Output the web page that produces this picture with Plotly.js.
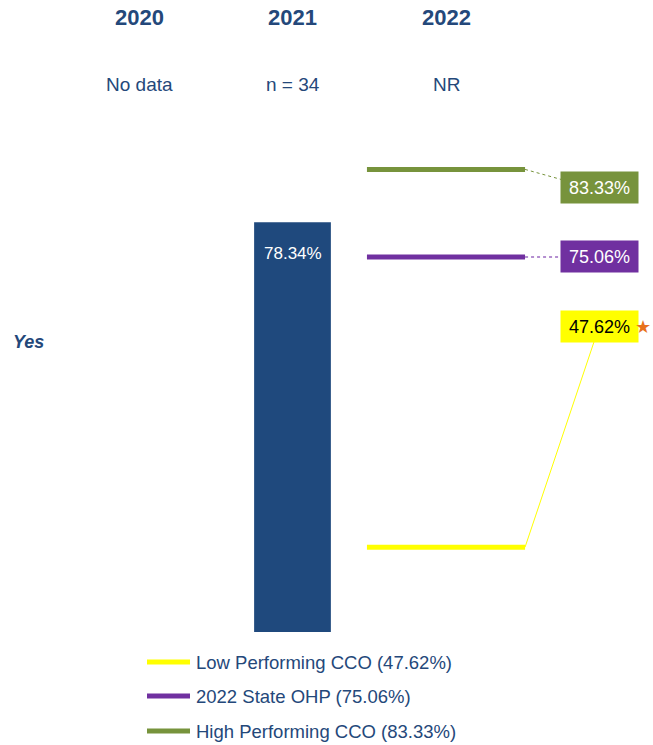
<!DOCTYPE html>
<html>
<head>
<meta charset="utf-8">
<script src="https://cdn.plot.ly/plotly-3.0.1.min.js"></script>
<style>html,body{margin:0;padding:0;background:#fff;}#chart{width:653px;height:745px;}</style>
</head>
<body>
<div id="chart"></div>
<script>
// ---- data ----
const years = ['2020', '2021', '2022'];
const subLabels = ['No data', 'n = 34', 'NR'];
const barValues = [null, 78.34, null];
const rowLabel = 'Yes';
const refNames = ['Low Performing CCO', '2022 State OHP', 'High Performing CCO'];
const refValues = [47.62, 75.06, 83.33];
const refColors = ['#FFFF00', '#7030A0', '#77933C'];
const refTextColors = ['#000000', '#FFFFFF', '#FFFFFF'];

// ---- layout constants ----
const W = 653, H = 745;
const mT = 120, mB = 113;
const yMin = 39.6, yMax = 88.0;
const xMin = -0.9055, xMax = 3.3485;
const pxPerY = (H - mT - mB) / (yMax - yMin);
const navy = '#1F497D';
const textNavy = '#24487A';
const labelX = 3.0;                 // center of value boxes
const labelY = [68.49, 75.06, 81.58]; // vertical placement of value boxes
const boxW = 77, boxH = 31;
const lineX0 = 1.485, lineX1 = 2.515;
const pxPerX = W / (xMax - xMin);

function paperY(px) { return (H - mB - px) / (H - mT - mB); }
function paperX(px) { return px / W; }

const traces = [];
traces.push({
  type: 'bar', x: [0, 1, 2], y: barValues, width: 0.5,
  marker: { color: navy }, hoverinfo: 'skip', showlegend: false
});
refValues.forEach((v, i) => {
  traces.push({
    type: 'scatter', mode: 'lines', x: [lineX0, lineX1], y: [v, v],
    line: { color: refColors[i], width: 5 }, hoverinfo: 'skip', showlegend: false
  });
});

const annotations = [];
const shapes = [];
years.forEach((y, i) => {
  annotations.push({ x: i, xref: 'x', y: paperY(17), yref: 'paper', text: '<b>' + y + '</b>',
    showarrow: false, xanchor: 'center', yanchor: 'middle',
    font: { family: 'Liberation Sans Narrow, Liberation Sans, sans-serif', size: 22, color: textNavy } });
  annotations.push({ x: i, xref: 'x', y: paperY(84), yref: 'paper', text: subLabels[i],
    showarrow: false, xanchor: 'center', yanchor: 'middle',
    font: { family: 'Liberation Sans Narrow, Liberation Sans, sans-serif', size: 19, color: textNavy } });
});
annotations.push({ x: paperX(11), xref: 'paper', y: paperY(342), yref: 'paper', text: '<b><i>' + rowLabel + '</i></b>',
  showarrow: false, xanchor: 'left', yanchor: 'middle',
  font: { family: 'Liberation Sans, sans-serif', size: 18, color: textNavy } });

// bar value label
barValues.forEach((v, i) => {
  if (v === null) return;
  annotations.push({ x: i, y: v, xref: 'x', yref: 'y', text: v.toFixed(2) + '%', showarrow: false,
    xanchor: 'center', yanchor: 'top', yshift: -20,
    font: { family: 'Liberation Sans, sans-serif', size: 17, color: '#FFFFFF' } });
});

// value boxes + leaders
refValues.forEach((v, i) => {
  annotations.push({ x: labelX, y: labelY[i], xref: 'x', yref: 'y', text: v.toFixed(2) + '%', showarrow: false,
    xanchor: 'center', yanchor: 'middle', bgcolor: refColors[i], width: boxW - 2, height: boxH - 2, borderpad: 1,
    font: { family: 'Liberation Sans, sans-serif', size: 18, color: refTextColors[i] } });
});
const boxLeft = labelX - (boxW / 2) / pxPerX;
const halfBoxY = (boxH / 2) / pxPerY;
// low performing: solid thin line to bottom of box
shapes.push({ type: 'line', xref: 'x', yref: 'y', x0: lineX1, y0: refValues[0], x1: labelX - 5.5 / pxPerX, y1: labelY[0] - halfBoxY,
  line: { color: refColors[0], width: 1 } });
// state: dotted to box left
shapes.push({ type: 'line', xref: 'x', yref: 'y', x0: lineX1, y0: refValues[1], x1: boxLeft, y1: refValues[1],
  line: { color: '#B48FD0', width: 2, dash: 'dot' } });
// high performing: dotted to upper-left of box
shapes.push({ type: 'line', xref: 'x', yref: 'y', x0: lineX1, y0: refValues[2], x1: boxLeft, y1: labelY[2] + halfBoxY - 7 / pxPerY,
  line: { color: refColors[2], width: 1, dash: 'dot' } });
// star next to low performing box
annotations.push({ x: paperX(653), xref: 'paper', y: labelY[0], yref: 'y', text: '★', showarrow: false,
  xanchor: 'right', yanchor: 'middle', yshift: 0,
  font: { family: 'DejaVu Sans, sans-serif', size: 18, color: '#E8711C' } });

// manual legend
const legendRows = [662, 696, 731];
refNames.forEach((n, i) => {
  shapes.push({ type: 'line', xref: 'paper', yref: 'paper', x0: paperX(147), x1: paperX(190),
    y0: paperY(legendRows[i]), y1: paperY(legendRows[i]), line: { color: refColors[i], width: 5 } });
  annotations.push({ x: paperX(194), xref: 'paper', y: paperY(legendRows[i]), yref: 'paper',
    text: n + ' (' + refValues[i].toFixed(2) + '%)', showarrow: false, xanchor: 'left', yanchor: 'middle',
    font: { family: 'Liberation Sans, sans-serif', size: 18.5, color: textNavy } });
});

const layout = {
  width: W, height: H,
  margin: { l: 0, r: 0, t: mT, b: mB, pad: 0 },
  paper_bgcolor: '#FFFFFF', plot_bgcolor: '#FFFFFF',
  showlegend: false,
  xaxis: { range: [xMin, xMax], visible: false, fixedrange: true },
  yaxis: { range: [yMin, yMax], visible: false, fixedrange: true },
  annotations: annotations, shapes: shapes
};
Plotly.newPlot('chart', traces, layout, { staticPlot: true, displayModeBar: false });
</script>
</body>
</html>
